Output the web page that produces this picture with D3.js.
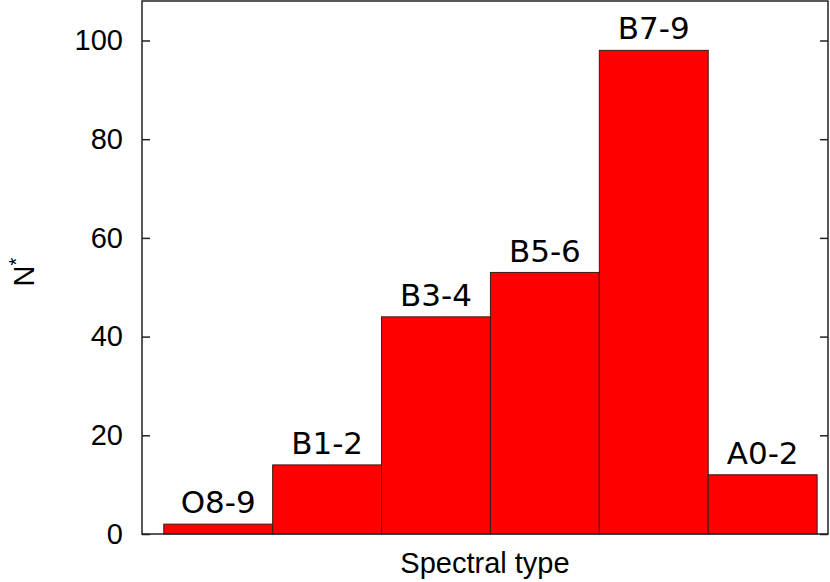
<!DOCTYPE html>
<html>
<head>
<meta charset="utf-8">
<script src="https://cdn.jsdelivr.net/npm/d3@7"></script>
<style>
  body { margin: 0; background: #fff; }
</style>
</head>
<body>
<div class="chart"></div>
<script>
// histogram of spectral types
var categories = ['O8-9', 'B1-2', 'B3-4', 'B5-6', 'B7-9', 'A0-2'];
var counts = [2, 14, 44, 53, 98, 12];
var yTicks = [0, 20, 40, 60, 80, 100];

var width = 830, height = 582;
var plot = { left: 142, right: 828, top: 1, bottom: 534 };

var svg = d3.select('.chart').append('svg')
  .attr('width', width).attr('height', height);

var x = d3.scaleLinear().domain([-0.7, 5.6]).range([plot.left, plot.right]);
var y = d3.scaleLinear().domain([0, 108]).range([plot.bottom, plot.top]);

// bars
svg.selectAll('rect.bar')
  .data(counts)
  .enter()
  .append('rect')
  .attr('class', 'bar')
  .attr('x', function (d, i) { return x(i - 0.5); })
  .attr('width', function (d, i) { return x(i + 0.5) - x(i - 0.5); })
  .attr('y', function (d) { return y(d); })
  .attr('height', function (d) { return y(0) - y(d); })
  .attr('fill', '#ff0000')
  .attr('stroke', '#3a1a1a')
  .attr('stroke-width', 1);

// labels above bars
svg.selectAll('text.cat')
  .data(categories)
  .enter()
  .append('text')
  .attr('class', 'cat')
  .attr('x', function (d, i) { return x(i); })
  .attr('y', function (d, i) { return y(counts[i] + 2.2); })
  .attr('text-anchor', 'middle')
  .style('font-family', '"DejaVu Sans", sans-serif')
  .style('font-size', '31px')
  .attr('fill', '#000')
  .text(function (d) { return d; });

// left axis, ticks inward
var left = svg.append('g')
  .attr('transform', 'translate(' + plot.left + ',0)')
  .call(d3.axisLeft(y).tickValues(yTicks).tickSize(-8).tickPadding(19));
left.select('.domain').remove();
left.selectAll('.tick line').attr('stroke', '#222').attr('stroke-width', 1.5);
left.selectAll('.tick text')
  .style('font-family', '"Liberation Sans", Arial, sans-serif')
  .style('font-size', '29px')
  .attr('fill', '#000');

// right mirror ticks
var right = svg.append('g')
  .attr('transform', 'translate(' + plot.right + ',0)')
  .call(d3.axisRight(y).tickValues(yTicks).tickSize(-8).tickFormat(''));
right.select('.domain').remove();
right.selectAll('.tick line').attr('stroke', '#222').attr('stroke-width', 1.5);

// frame
svg.append('rect')
  .attr('x', plot.left).attr('y', plot.top)
  .attr('width', plot.right - plot.left).attr('height', plot.bottom - plot.top)
  .attr('fill', 'none')
  .attr('stroke', '#222')
  .attr('stroke-width', 1.5);

// axis titles
svg.append('text')
  .attr('x', (plot.left + plot.right) / 2)
  .attr('y', 573)
  .attr('text-anchor', 'middle')
  .style('font-family', '"Liberation Sans", Arial, sans-serif')
  .style('font-size', '29px')
  .text('Spectral type');

var ylab = svg.append('text')
  .attr('transform', 'translate(34,272) rotate(-90)')
  .attr('text-anchor', 'middle')
  .style('font-family', '"Liberation Sans", Arial, sans-serif')
  .style('font-size', '29px');
ylab.append('tspan').text('N');
ylab.append('tspan').attr('dy', -11).style('font-size', '20px').text('*');
</script>
</body>
</html>
